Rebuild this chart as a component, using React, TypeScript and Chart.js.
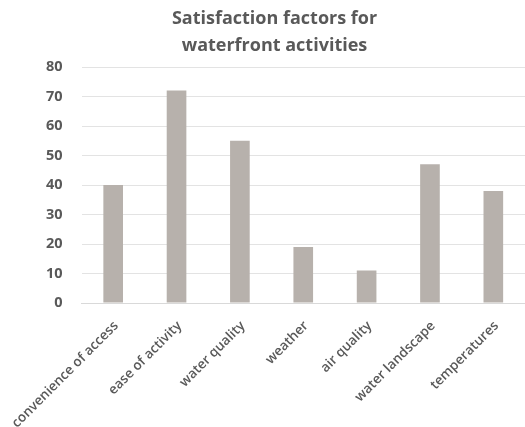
import React, { useEffect, useRef } from "react";
import { Chart, registerables } from "chart.js";

Chart.register(...registerables);

const categories = [
  "convenience of access",
  "ease of activity",
  "water quality",
  "weather",
  "air quality",
  "water landscape",
  "temperatures",
];
const values = [40, 72, 55, 19, 11, 47, 38];
const titleLines = ["Satisfaction factors for", "waterfront activities"];

export default function App() {
  const ref = useRef<HTMLCanvasElement | null>(null);
  useEffect(() => {
    if (!ref.current) return;
    const chart = new Chart(ref.current, {
      type: "bar",
      data: {
        labels: categories,
        datasets: [
          {
            data: values,
            backgroundColor: "#b7b1ac",
            categoryPercentage: 1,
            barPercentage: 0.31,
          },
        ],
      },
      options: {
        animation: false,
        responsive: false,
        maintainAspectRatio: false,
        layout: { padding: { left: 24, right: 0, top: 5, bottom: 0 } },
        plugins: {
          legend: { display: false },
          tooltip: { enabled: false },
          title: {
            display: true,
            text: titleLines,
            color: "#595959",
            font: { family: "'Open Sans'", size: 18, weight: "bold", lineHeight: 1.5 },
            padding: { top: 0, bottom: 8 },
          },
        },
        scales: {
          x: {
            grid: { display: false, drawTicks: false },
            border: { display: true, color: "#d9d9d9", width: 1 },
            ticks: {
              color: "#595959",
              font: { family: "'Open Sans'", size: 13.5, weight: "600" },
              minRotation: 45,
              maxRotation: 45,
              autoSkip: false,
              padding: 15,
              labelOffset: 3,
            },
            afterFit: (scale: any) => {
              scale.height = 124;
              scale.paddingLeft = 0;
              scale.paddingRight = 0;
            },
          },
          y: {
            min: 0,
            max: 80,
            grid: { color: "#e3e3e3", drawTicks: false },
            border: { display: false },
            ticks: {
              stepSize: 10,
              color: "#595959",
              font: { family: "'Open Sans'", size: 14.5, weight: "bold" },
              padding: 19,
            },
            afterFit: (scale: any) => {
              scale.width = 57.5;
              scale.paddingTop = 0;
              scale.paddingBottom = 0;
            },
          },
        },
      },
    });
    return () => chart.destroy();
  }, []);
  return (
    <div style={{ position: "fixed", left: 0, top: 0, width: 525, height: 427, background: "#fff" }}>
      <canvas ref={ref} width={525} height={427} style={{ width: 525, height: 427 }} />
    </div>
  );
}
